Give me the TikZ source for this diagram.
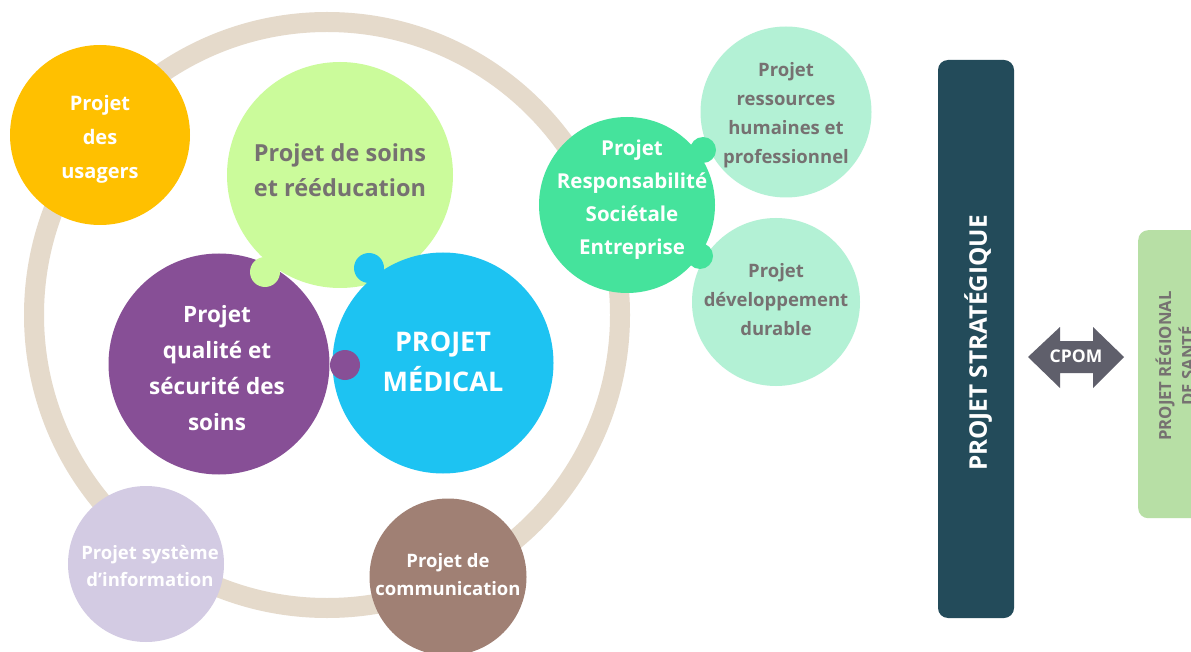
\documentclass[tikz,border=0pt]{standalone}
\usepackage{fontspec}
\setmainfont{Open Sans}
\definecolor{ring}{HTML}{E5DACB}
\definecolor{cyellow}{HTML}{FFC000}
\definecolor{csoins}{HTML}{CBFB9B}
\definecolor{cpurple}{HTML}{874F96}
\definecolor{ccyan}{HTML}{1DC3F2}
\definecolor{clav}{HTML}{D3CBE3}
\definecolor{cbrown}{HTML}{A08074}
\definecolor{crse}{HTML}{45E39C}
\definecolor{cpale}{HTML}{B3F1D5}
\definecolor{cteal}{HTML}{234B5A}
\definecolor{carrow}{HTML}{5F5F6B}
\definecolor{cregion}{HTML}{B7DFA5}
\definecolor{tgray}{HTML}{767171}
\tikzset{
  bubble/.style={circle, inner sep=0pt, align=center, font=\bfseries},
  txt/.style={align=center, inner sep=0pt},
  fs/.style n args={2}{font=\bfseries\fontsize{#1}{#2}\selectfont},
}
\begin{document}
\begin{tikzpicture}[x=1pt,y=-1pt]
\useasboundingbox[fill=white] (0,0) rectangle (1191,652);
% ring
\draw[ring, line width=20pt] (327,315) circle[radius=293];
% main circles
\node[bubble, fill=cyellow, minimum size=180pt] (usagers) at (100,135) {};
\node[txt, text=white, fs={20}{34}] (usagerst) at (100,139) {Projet\\des\\usagers};
\node[bubble, fill=csoins, minimum size=226pt] (soins) at (340,175) {};
\node[txt, text=tgray, fs={23.5}{35}] (soinst) at (340,170) {Projet de soins\\et rééducation};
\node[bubble, fill=cpurple, minimum size=221pt] (qualite) at (219,364) {};
\node[bubble, fill=ccyan, minimum size=221pt] (medical) at (443,363) {};
\fill[csoins] (265,272) circle[radius=15];
\fill[ccyan] (369,268) circle[radius=15];
\fill[cpurple] (345,365) circle[radius=15];
\node[txt, text=white, fs={22.5}{36}] (qualitet) at (217,368) {Projet\\qualité et\\sécurité des\\soins};
\node[txt, text=white, fs={27}{40}] (medicalt) at (443,362) {PROJET\\MÉDICAL};
\node[bubble, fill=clav, minimum size=156pt] (si) at (146,564) {};
\node[txt, text=white, fs={18.5}{27}] (sit) at (150,566) {Projet système\\d’information};
\node[bubble, fill=cbrown, minimum size=157pt] (comm) at (448,577) {};
\node[txt, text=white, fs={18.5}{28}] (commt) at (448,575) {Projet de\\communication};
\node[bubble, fill=cpale, minimum size=171pt] (rh) at (786,112) {};
\node[txt, text=tgray, fs={18.5}{29}] (rht) at (786,115) {Projet\\ressources\\humaines et\\professionnel};
\node[bubble, fill=cpale, minimum size=168pt] (dd) at (776,302) {};
\node[txt, text=tgray, fs={18.5}{29}] (ddt) at (776,300) {Projet\\développement\\durable};
\node[bubble, fill=crse, minimum size=176pt] (rse) at (627,205) {};
\fill[crse] (703,150) circle[radius=13];
\fill[crse] (700,256) circle[radius=13];
\node[txt, text=white, fs={20.5}{33}] (rset) at (632,200) {Projet\\Responsabilité\\Sociétale\\Entreprise};
% strategic bar
\node[fill=cteal, rounded corners=10pt, minimum width=76pt, minimum height=558pt, inner sep=0pt] (strat) at (976,339) {};
\node[rotate=90, text=white, fs={24.3}{30}] (strattext) at (978,343) {PROJET STRATÉGIQUE};
% CPOM arrow
\fill[carrow] (1028,357) -- (1060,327) -- (1060,341) -- (1093,341) -- (1093,327) -- (1124,357) -- (1093,388) -- (1093,373) -- (1060,373) -- (1060,388) -- cycle;
\node[text=white, fs={17.5}{20}] (cpom) at (1076,356) {CPOM};
% regional box
\node[fill=cregion, rounded corners=10pt, minimum width=90pt, minimum height=288pt, inner sep=0pt, anchor=north west] (region) at (1138,230) {};
\node[rotate=90, text=tgray, fs={16.7}{23}, align=center] (regiontext) at (1175,366) {PROJET RÉGIONAL\\DE SANTÉ};
\end{tikzpicture}
\end{document}
